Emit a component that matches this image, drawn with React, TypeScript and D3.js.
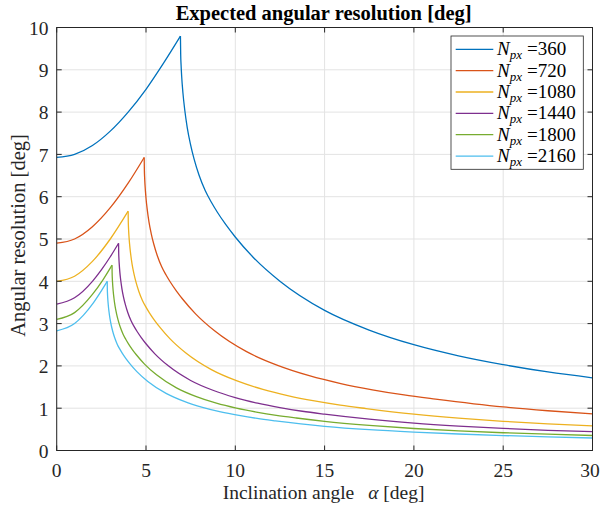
import React from "react";
import * as d3 from "d3";

const W = 600;
const H = 505;
const PL = 56.7;
const PR = 592.5;
const PT = 27.5;
const PB = 450.5;

const xTicks = [0, 5, 10, 15, 20, 25, 30];
const yTicks = [0, 1, 2, 3, 4, 5, 6, 7, 8, 9, 10];
const seriesN = ["360", "720", "1080", "1440", "1800", "2160"];
const colors = ["#0072BD", "#D95319", "#EDB120", "#7E2F8E", "#77AC30", "#4DBEEE"];

const alpha360 = [0, 1, 2, 3, 4, 5, 6, 6.928, 6.942, 6.963, 6.997, 7.067, 7.17, 7.309, 7.482, 7.69, 7.967, 8.314, 8.66, 9.006, 9.471, 9.997, 10.995, 12.498, 15.0, 17.493, 19.994, 22.495, 24.996, 27.504, 30];
const res360 = [6.93, 7.0, 7.21, 7.55, 8.0, 8.54, 9.17, 9.798, 9.367, 9.124, 8.847, 8.459, 8.05, 7.635, 7.254, 6.893, 6.512, 6.145, 5.868, 5.626, 5.338, 5.048, 4.57, 4.002, 3.312, 2.847, 2.501, 2.238, 2.03, 1.857, 1.718];

const alpha720 = [0, 1, 2, 3, 4, 4.899, 4.909, 4.923, 4.948, 4.997, 5.07, 5.168, 5.291, 5.438, 5.634, 5.879, 6.124, 6.369, 6.697, 7.069, 7.775, 8.838, 10.606, 12.37, 14.139, 15.907, 17.676, 19.449, 21.213, 25, 27.5, 30];
const res720 = [4.9, 5.0, 5.29, 5.74, 6.32, 6.928, 6.623, 6.452, 6.256, 5.982, 5.693, 5.399, 5.129, 4.875, 4.605, 4.345, 4.149, 3.978, 3.775, 3.57, 3.231, 2.83, 2.342, 2.013, 1.769, 1.582, 1.435, 1.313, 1.215, 1.03, 0.94, 0.865];

const alpha1080 = [0, 1, 2, 3, 4, 4.008, 4.02, 4.04, 4.08, 4.14, 4.22, 4.32, 4.44, 4.6, 4.8, 5.0, 5.2, 5.468, 5.772, 6.348, 7.216, 8.66, 10.1, 11.544, 12.988, 14.432, 15.88, 17.32, 20, 22.5, 25, 27.5, 30];
const res1080 = [4.0, 4.12, 4.47, 5.0, 5.657, 5.408, 5.268, 5.108, 4.884, 4.648, 4.408, 4.188, 3.98, 3.76, 3.548, 3.388, 3.248, 3.082, 2.915, 2.638, 2.31, 1.912, 1.644, 1.444, 1.292, 1.172, 1.072, 0.992, 0.86, 0.765, 0.69, 0.63, 0.58];

const alpha1440 = [0, 1, 2, 2.5, 3, 3.464, 3.471, 3.481, 3.499, 3.533, 3.585, 3.655, 3.741, 3.845, 3.984, 4.157, 4.33, 4.503, 4.735, 4.999, 5.497, 6.249, 7.5, 8.747, 9.997, 11.248, 12.498, 13.752, 14.999, 17.5, 20, 22.5, 25, 27.5, 30];
const res1440 = [3.46, 3.61, 4.0, 4.27, 4.58, 4.899, 4.683, 4.562, 4.424, 4.23, 4.025, 3.817, 3.627, 3.447, 3.256, 3.073, 2.934, 2.813, 2.669, 2.524, 2.285, 2.001, 1.656, 1.424, 1.251, 1.119, 1.015, 0.928, 0.859, 0.74, 0.648, 0.578, 0.522, 0.478, 0.445];

const alpha1800 = [0, 1, 2, 2.6, 3.098, 3.104, 3.113, 3.129, 3.16, 3.206, 3.268, 3.346, 3.439, 3.563, 3.718, 3.873, 4.027, 4.235, 4.47, 4.917, 5.589, 6.707, 7.822, 8.941, 10.059, 11.178, 12.299, 13.414, 15, 17.5, 20, 22.5, 25, 27.5, 30];
const res1800 = [3.1, 3.26, 3.69, 4.04, 4.381, 4.188, 4.08, 3.956, 3.783, 3.6, 3.414, 3.244, 3.083, 2.912, 2.748, 2.624, 2.516, 2.387, 2.258, 2.043, 1.789, 1.481, 1.273, 1.118, 1.001, 0.908, 0.83, 0.768, 0.69, 0.595, 0.52, 0.465, 0.42, 0.385, 0.355];

const alpha2160 = [0, 1, 1.5, 2, 2.4, 2.828, 2.834, 2.842, 2.856, 2.885, 2.927, 2.984, 3.054, 3.139, 3.252, 3.394, 3.535, 3.676, 3.866, 4.081, 4.488, 5.102, 6.123, 7.141, 8.162, 9.183, 10.204, 11.227, 12.245, 15, 17.5, 20, 22.5, 25, 27.5, 30];
const res2160 = [2.83, 3.0, 3.2, 3.46, 3.71, 4.0, 3.823, 3.724, 3.611, 3.453, 3.286, 3.116, 2.961, 2.814, 2.658, 2.508, 2.395, 2.296, 2.179, 2.061, 1.865, 1.633, 1.352, 1.162, 1.021, 0.913, 0.829, 0.758, 0.701, 0.572, 0.492, 0.435, 0.39, 0.353, 0.322, 0.295];

const alphas = [alpha360, alpha720, alpha1080, alpha1440, alpha1800, alpha2160];
const values = [res360, res720, res1080, res1440, res1800, res2160];

const FONT = "Liberation Serif, Times New Roman, serif";
const AX = "#262626";

export default function App() {
  const x = d3.scaleLinear().domain([0, 30]).range([PL, PR]);
  const y = d3.scaleLinear().domain([0, 10]).range([PB, PT]);
  const line = d3
    .line<[number, number]>()
    .x((d) => x(d[0]))
    .y((d) => y(d[1]))
    .curve(d3.curveMonotoneX);

  const paths: { d: string; color: string }[] = [];
  alphas.forEach((a, i) => {
    const v = values[i];
    const pts: [number, number][] = a.map((ai, k) => [ai, v[k]]);
    const peak = d3.maxIndex(v);
    paths.push({ d: line(pts.slice(0, peak + 1)) || "", color: colors[i] });
    paths.push({ d: line(pts.slice(peak)) || "", color: colors[i] });
  });

  const tick = 5;
  const legX = 451;
  const legY = 36;
  const legW = 132.3;
  const legH = 133.3;
  const rowY0 = 49.3;
  const rowDy = 21.35;

  return (
    <svg width={W} height={H} style={{ display: "block", position: "absolute", left: 0, top: 0 }}>
      <rect x={0} y={0} width={W} height={H} fill="#fff" />
      <defs>
        <clipPath id="plotclip">
          <rect x={PL} y={PT} width={PR - PL} height={PB - PT} />
        </clipPath>
      </defs>
      {xTicks.map((t) => (
        <line key={"gx" + t} x1={x(t)} x2={x(t)} y1={PT} y2={PB} stroke="#e3e3e3" strokeWidth={1} />
      ))}
      {yTicks.map((t) => (
        <line key={"gy" + t} x1={PL} x2={PR} y1={y(t)} y2={y(t)} stroke="#e3e3e3" strokeWidth={1} />
      ))}
      <g clipPath="url(#plotclip)">
        {paths.map((p, i) => (
          <path key={i} d={p.d} fill="none" stroke={p.color} strokeWidth={1.3} strokeLinejoin="round" />
        ))}
      </g>
      <rect x={PL} y={PT} width={PR - PL} height={PB - PT} fill="none" stroke={AX} strokeWidth={1} />
      {xTicks.map((t, i) => (
        <g key={"tx" + t}>
          <line x1={x(t)} x2={x(t)} y1={PB} y2={PB - tick} stroke={AX} />
          <line x1={x(t)} x2={x(t)} y1={PT} y2={PT + tick} stroke={AX} />
          <text
            x={i === xTicks.length - 1 ? x(t) - 2.5 : x(t)}
            y={470}
            textAnchor="middle"
            dominantBaseline="central"
            fontSize={19.5}
            fontFamily={FONT}
            fill={AX}
          >
            {t}
          </text>
        </g>
      ))}
      {yTicks.map((t) => (
        <g key={"ty" + t}>
          <line x1={PL} x2={PL + tick} y1={y(t)} y2={y(t)} stroke={AX} />
          <line x1={PR} x2={PR - tick} y1={y(t)} y2={y(t)} stroke={AX} />
          <text x={48.5} y={y(t) + 0.8} textAnchor="end" dominantBaseline="central" fontSize={19.5} fontFamily={FONT} fill={AX}>
            {t}
          </text>
        </g>
      ))}
      <text x={(PL + PR) / 2 - 1} y={19.5} textAnchor="middle" fontSize={20.5} fontWeight="bold" fontFamily={FONT} fill="#000">
        Expected angular resolution [deg]
      </text>
      <text x={(PL + PR) / 2 - 1} y={499} textAnchor="middle" fontSize={19.5} fontFamily={FONT} fill={AX}>
        Inclination angle
        <tspan dx={14} fontStyle="italic">α</tspan>
        <tspan> [deg]</tspan>
      </text>
      <text
        transform={`translate(25, ${(PT + PB) / 2 - 3.5}) rotate(-90)`}
        textAnchor="middle"
        fontSize={20.5}
        fontFamily={FONT}
        fill={AX}
      >
        Angular resolution [deg]
      </text>
      <rect x={legX} y={legY} width={legW} height={legH} fill="#fff" stroke={AX} strokeWidth={0.8} />
      {seriesN.map((n, i) => {
        const ry = rowY0 + i * rowDy;
        return (
          <g key={"lg" + n}>
            <line x1={455.7} x2={493.3} y1={ry} y2={ry} stroke={colors[i]} strokeWidth={1.3} />
            <text x={497} y={ry + 6} fontSize={19} fontFamily={FONT} fill="#000">
              <tspan fontStyle="italic">N</tspan>
              <tspan fontStyle="italic" fontSize={13} dy={4}>px</tspan>
              <tspan dy={-4} dx={5}>=</tspan>
              <tspan>{n}</tspan>
            </text>
          </g>
        );
      })}
    </svg>
  );
}
